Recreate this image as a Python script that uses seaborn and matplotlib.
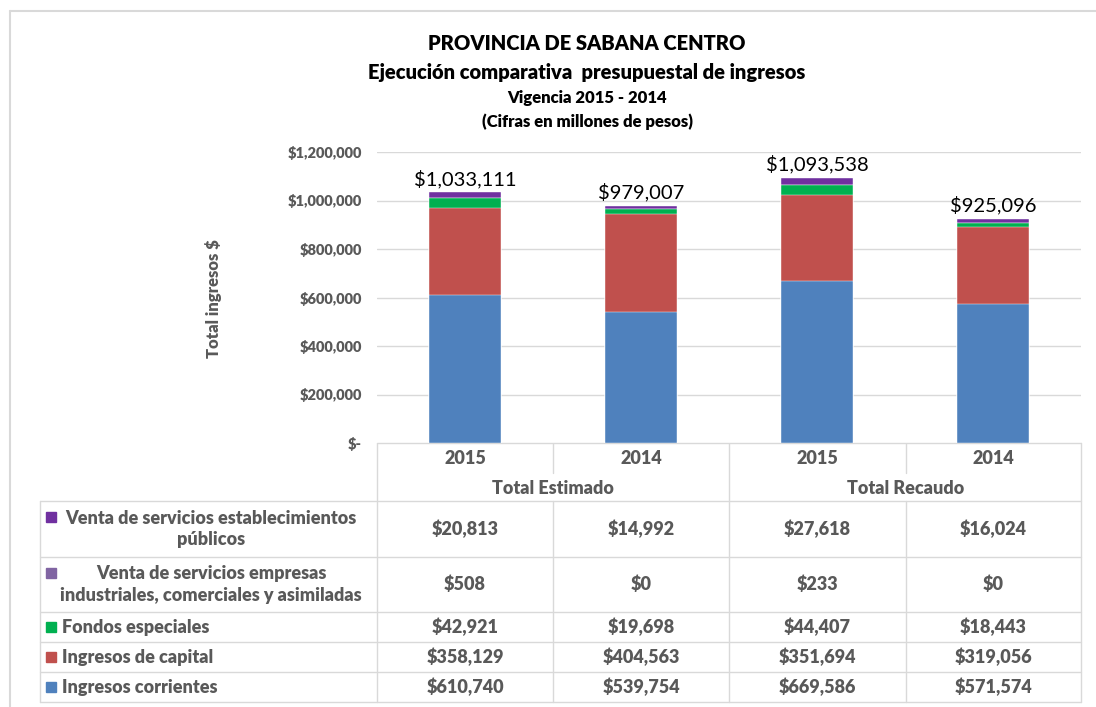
import numpy as np
import pandas as pd
import matplotlib
matplotlib.use("Agg")
import matplotlib.pyplot as plt
import seaborn as sns

# data
years = ["2015", "2014", "2015", "2014"]
groups = ["Total Estimado", "Total Recaudo"]
bar_ids = ["Estimado 2015", "Estimado 2014", "Recaudo 2015", "Recaudo 2014"]

corrientes = [610740, 539754, 669586, 571574]
capital = [358129, 404563, 351694, 319056]
fondos = [42921, 19698, 44407, 18443]
venta_empresas = [508, 0, 233, 0]
venta_estab = [20813, 14992, 27618, 16024]
totals = [1033111, 979007, 1093538, 925096]  # labels as printed

series_names = [
    "Ingresos corrientes",
    "Ingresos de capital",
    "Fondos especiales",
    "Venta de servicios empresas\nindustriales, comerciales y asimiladas",
    "Venta de servicios establecimientos\npúblicos",
]
series_vals = [corrientes, capital, fondos, venta_empresas, venta_estab]
colors = ["#4F81BD", "#C0504D", "#00B050", "#8064A2", "#7030A0"]

yticks = [0, 200000, 400000, 600000, 800000, 1000000, 1200000]

sns.set_theme(style="white")
plt.rcParams["font.family"] = ["Lato", "DejaVu Sans"]
gray = "#595959"
bw = 800  # heavier than Lato's default bold, closer to the original

W, H = 1096, 707
fig = plt.figure(figsize=(W / 100, H / 100), dpi=100)

# table / frame layer in pixel coordinates
axt = fig.add_axes([0, 0, 1, 1])
axt.set_xlim(0, W)
axt.set_ylim(H, 0)
axt.axis("off")

# bar axes
x0, x1, ybase, ytop = 377, 1081, 443, 152
ax = fig.add_axes([x0 / W, (H - ybase) / H, (x1 - x0) / W, (ybase - ytop) / H])

df = pd.DataFrame({"bar": bar_ids})
cum = np.zeros(len(bar_ids))
cums = []
for vals in series_vals:
    cum = cum + np.array(vals)
    cums.append(cum.copy())

# draw the stack from the top total down so each layer covers the one above
for i in reversed(range(len(series_vals))):
    df["h"] = cums[i]
    sns.barplot(data=df, x="bar", y="h", order=bar_ids, color=colors[i],
                saturation=1, width=0.41, errorbar=None, ax=ax,
                edgecolor="white", linewidth=0.3)

for i, t in enumerate(totals):
    ax.annotate(f"${t:,}", (i, cums[-1][i]), xytext=(0, 3), textcoords="offset points",
                ha="center", va="bottom", fontsize=14.5, color="black")

ax.set_ylim(0, 1200000)
ax.set_xlim(-0.5, 3.5)
ax.set_yticks(yticks)
ax.set_yticklabels(["$-"] + [f"${v:,}" for v in yticks[1:]],
                   fontsize=10.5, fontweight=bw, color=gray)
ax.tick_params(axis="y", length=0, pad=11)
ax.set_xticks([])
ax.set_xlabel("")
ax.set_ylabel("")
ax.grid(axis="y", color="#D9D9D9", linewidth=1)
ax.set_axisbelow(True)
for s in ax.spines.values():
    s.set_visible(False)

fig.text(213 / W, 1 - 299 / H, "Total ingresos $", rotation=90, ha="center", va="center",
         fontsize=12, fontweight=bw, color=gray)

# titles
cx = 587
axt.text(cx, 44, "PROVINCIA DE SABANA CENTRO", ha="center", va="center",
         fontsize=14.5, fontweight=bw, color="black")
axt.text(cx, 72, "Ejecución comparativa  presupuestal de ingresos", ha="center", va="center",
         fontsize=14.5, fontweight=bw, color="black")
axt.text(cx, 98, "Vigencia 2015 - 2014", ha="center", va="center",
         fontsize=12, fontweight=bw, color="black")
axt.text(cx, 122, "(Cifras en millones de pesos)", ha="center", va="center",
         fontsize=12, fontweight=bw, color="black")

# chart frame (top and left edge visible)
lc = "#D9D9D9"
axt.plot([10, W], [11, 11], color=lc, lw=1.5)
axt.plot([10, 10], [11, H], color=lc, lw=1.5)

# data table
col_edges = [377, 553, 729, 906, 1081]
col_centers = [(col_edges[i] + col_edges[i + 1]) / 2 for i in range(4)]
row_edges = [501, 557, 612, 642, 672, 702]
tleft = 40
fs = 13

axt.plot([x0, x1], [443, 443], color=lc, lw=1)
for y in row_edges:
    axt.plot([tleft, x1], [y, y], color=lc, lw=1)
axt.plot([tleft, tleft], [501, 702], color=lc, lw=1)
for xe in col_edges:
    if xe in (553, 906):
        axt.plot([xe, xe], [443, 473], color=lc, lw=1)
        axt.plot([xe, xe], [501, 702], color=lc, lw=1)
    else:
        axt.plot([xe, xe], [443, 702], color=lc, lw=1)

for xc, yr in zip(col_centers, years):
    axt.text(xc, 459, yr, ha="center", va="center", fontsize=fs, fontweight=bw, color=gray)
for g, xg in zip(groups, [col_edges[1], col_edges[3]]):
    axt.text(xg, 488, g, ha="center", va="center", fontsize=fs, fontweight=bw, color=gray)

# rows top to bottom: reverse of stack order
for r, k in enumerate(reversed(range(len(series_vals)))):
    ytop_r, ybot_r = row_edges[r], row_edges[r + 1]
    yc = (ytop_r + ybot_r) / 2
    name = series_names[k]
    two_lines = "\n" in name
    my = yc - 12 if two_lines else yc
    axt.add_patch(plt.Rectangle((46, my - 5), 10, 10, color=colors[k]))
    if two_lines:
        axt.text(211, yc, name, ha="center", va="center", multialignment="center",
                 fontsize=fs, fontweight=bw, color=gray, linespacing=1.35)
    else:
        axt.text(62, yc, name, ha="left", va="center",
                 fontsize=fs, fontweight=bw, color=gray)
    for xc, v in zip(col_centers, series_vals[k]):
        axt.text(xc, yc, f"${v:,}", ha="center", va="center",
                 fontsize=fs, fontweight=bw, color=gray)

fig.savefig("out.png", dpi=100, facecolor="white")
